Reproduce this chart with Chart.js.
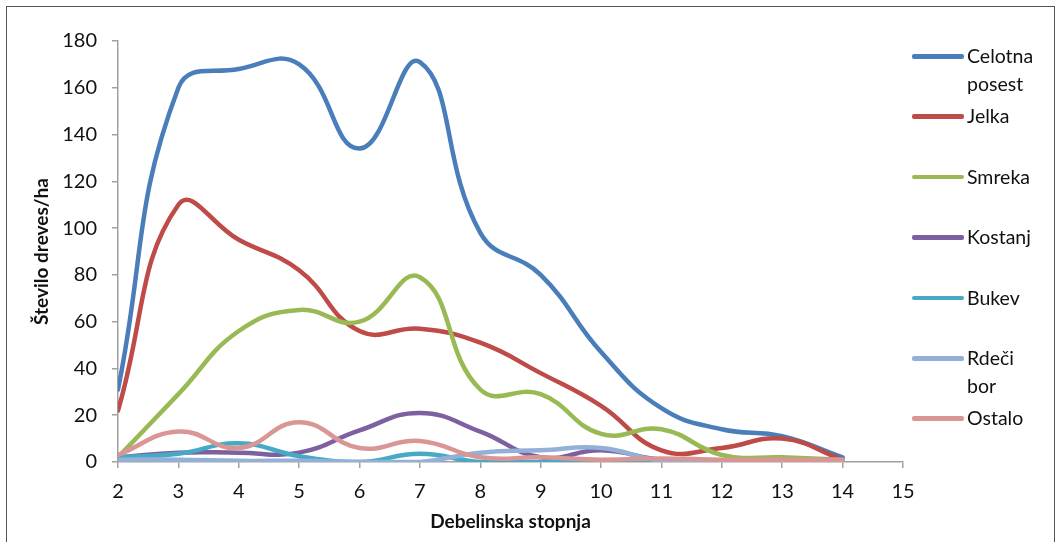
<!DOCTYPE html>
<html>
<head>
<meta charset="utf-8">
<script src="https://cdn.jsdelivr.net/npm/chart.js@4.4.1/dist/chart.umd.min.js"></script>
<style>
  html, body { margin:0; padding:0; background:#fff; }
  #wrap { position:relative; width:1059px; height:542px; overflow:hidden; }
  #frame { position:absolute; left:6px; top:6px; width:1049px; height:560px; border:1.5px solid #555; box-sizing:border-box; }
  canvas { position:absolute; left:0; top:0; }
  #legend { position:absolute; left:0; top:0; font-family: Lato, "Liberation Sans", sans-serif; font-size:19.5px; color:#111; }
  .item { position:absolute; left:912px; }
  .swatch { position:absolute; left:0; width:52px; height:4.5px; border-radius:2px; }
  .txt { position:absolute; left:55px; line-height:28px; white-space:nowrap; }
</style>
</head>
<body>
<div id="wrap">
  <div id="frame"></div>
  <canvas id="c" width="1059" height="542"></canvas>
  <div id="legend"></div>
</div>
<script>
const xValues = [2,3,4,5,6,7,8,9,10,11,12,13,14];
const seriesNames = ["Celotna posest","Jelka","Smreka","Kostanj","Bukev","Rdeči bor","Ostalo"];
const celotna  = [31,160,168,170,134,171,98,80,47,23,14,11,2];
const jelka    = [22,110,95,82,56,57,51,38,24,5,6,10,1];
const smreka   = [2,29,56,65,60,79,31,29,12,14,3,2,1];
const kostanj  = [2,4,4,4,13.5,21,13,2,5,1,0.5,0.5,1];
const bukev    = [2,3.5,8,2.5,0,3.5,0,0,0,0,0,0,0];
const rdeciBor = [1,1,0.5,0.5,0,0,4,5,6,0.5,0.5,0.5,0.5];
const ostalo   = [3,13,6,17,6,9,2,2,1,1.5,1,1,1];
const seriesValues = [celotna, jelka, smreka, kostanj, bukev, rdeciBor, ostalo];
const colors = ["#4A7EBB","#BE4B48","#98B954","#7D60A0","#46AAC5","#93B0D8","#D99694"];
const yTicks = [0,20,40,60,80,100,120,140,160,180];
const xTicks = [2,3,4,5,6,7,8,9,10,11,12,13,14,15];

const FONT = 'Lato, "Liberation Sans", sans-serif';
const n = seriesNames.length;
const datasets = seriesNames.map((name, i) => ({
  label: name,
  data: xValues.map((x, k) => ({x: x, y: seriesValues[i][k]})),
  borderColor: colors[i],
  backgroundColor: colors[i],
  borderWidth: 4.5,
  pointRadius: 0,
  tension: 0.45,
  fill: false,
  order: n - i,
  borderCapStyle: 'round',
  borderJoinStyle: 'round'
}));

new Chart(document.getElementById('c'), {
  type: 'line',
  data: { datasets },
  options: {
    responsive: false,
    animation: false,
    devicePixelRatio: 1,
    layout: { padding: { left: 22, right: 156, top: 41, bottom: 9 } },
    plugins: { legend: { display: false }, tooltip: { enabled: false } },
    scales: {
      x: {
        type: 'linear', min: 2, max: 15,
        afterBuildTicks: (s) => { s.ticks = xTicks.map(v => ({value: v})); },
        afterFit: (s) => { s.height = 71; },
        grid: { drawOnChartArea: false, drawTicks: true, tickLength: 6, color: '#a0a0a0', lineWidth: 1.5 },
        border: { color: '#a0a0a0', width: 1.5 },
        ticks: { font: { family: FONT, size: 20 }, color: '#111', padding: 12, maxRotation: 0, autoSkip: false },
        title: { display: true, text: 'Debelinska stopnja', font: { family: FONT, size: 19, weight: 'bold' }, color: '#111', padding: { top: 0, bottom: 0 } }
      },
      y: {
        min: 0, max: 180,
        afterBuildTicks: (s) => { s.ticks = yTicks.map(v => ({value: v})); },
        afterFit: (s) => { s.width = 96; },
        grid: { drawOnChartArea: false, drawTicks: true, tickLength: 6, color: '#a0a0a0', lineWidth: 1.5 },
        border: { color: '#a0a0a0', width: 1.5 },
        ticks: { font: { family: FONT, size: 20 }, color: '#111', padding: 15 },
        title: { display: true, text: 'Število dreves/ha', font: { family: FONT, size: 19, weight: 'bold' }, color: '#111', padding: { top: 8, bottom: 0 } }
      }
    }
  }
});

// HTML legend built from the series arrays
const legend = document.getElementById('legend');
seriesNames.forEach((name, i) => {
  const cy = 56 + i * 60.4;
  const item = document.createElement('div');
  item.className = 'item';
  item.style.top = (cy) + 'px';
  const sw = document.createElement('div');
  sw.className = 'swatch';
  sw.style.background = colors[i];
  sw.style.top = '-2px';
  const tx = document.createElement('div');
  tx.className = 'txt';
  tx.style.top = '-14px';
  tx.innerHTML = name.split(' ').join('<br>');
  item.appendChild(sw); item.appendChild(tx);
  legend.appendChild(item);
});
</script>
</body>
</html>
